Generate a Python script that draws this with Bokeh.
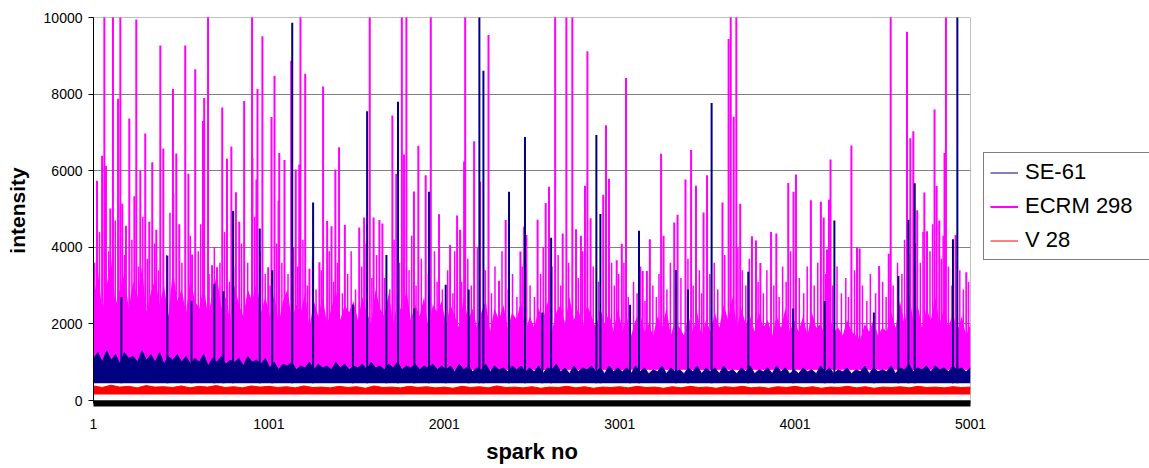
import numpy as np
from bokeh.plotting import figure
from bokeh.models import Legend, LegendItem, FixedTicker
from bokeh.embed import file_html
from bokeh.resources import INLINE

# Axis ticks
x_ticks = [1, 1001, 2001, 3001, 4001, 5001]
y_ticks = [0, 2000, 4000, 6000, 8000, 10000]
first_spark, last_spark = 1, 5001

series_names = ["SE-61", "ECRM 298", "V 28"]

# ECRM 298: lower edge of the dense trace, its upper edge per 25-spark window,
# the large flare sparks and the smaller ones
ecrm_floor = 800
ecrm_body = [
    2600, 3400, 2300, 3000, 3700, 2500, 2900, 3300, 2400, 3100, 2700, 3500, 2300, 2800, 3200, 2500, 3000, 2200, 3400, 2600,
    2900, 2300, 3200, 2600, 2400, 3000, 2200, 2800, 3300, 2400, 2700, 2100, 3000, 2500, 2200, 2900, 2600, 3100, 2300, 2700,
    2200, 2800, 2000, 2600, 2900, 2100, 2500, 2300, 2800, 1900, 2600, 2200, 2700, 2000, 2400, 2900, 2100, 2500, 2300, 2600,
    2100, 2700, 2300, 2000, 2900, 2400, 2200, 2800, 2000, 2600, 2300, 2900, 2100, 2500, 2200, 2700, 1900, 2500, 2300, 2600,
    2000, 2500, 2200, 1900, 2700, 2100, 2400, 1900, 2300, 2600, 1800, 2400, 2100, 2500, 1900, 2300, 2100, 2600, 1800, 2200,
    1900, 2400, 2100, 2600, 1800, 2300, 2500, 2000, 2700, 2100, 2400, 1900, 2500, 2200, 1900, 2400, 2000, 2300, 1800, 2400,
    1800, 2200, 1700, 2100, 2300, 1800, 2000, 1700, 2200, 1900, 2400, 1700, 2100, 1900, 1700, 2200, 1800, 2300, 1700, 2100,
    1800, 2300, 1900, 2500, 2100, 2700, 1900, 2400, 2000, 2200, 1800, 2300, 1900, 2100, 1700, 2200, 1900, 2400, 1800, 2100,
    1800, 2200, 1700, 2300, 1900, 2000, 1700, 2200, 1800, 1900, 1700, 2100, 1800, 1700, 1600, 2000, 1800, 2100, 1700, 1900,
    1800, 2300, 1900, 2600, 2000, 2800, 2100, 2500, 1900, 2400, 2100, 2700, 2000, 2400, 1900, 2300, 1800, 2200, 1700, 2000,
]
ecrm_peak_spark = [
    21, 50, 63, 72, 97, 112, 141, 154, 165, 186, 205, 234, 245, 268, 296, 319, 336, 359, 382, 399,
    454, 456, 473, 490, 524, 542, 563, 581, 625, 632, 654, 677, 705, 735, 762, 787, 813, 832, 860, 905,
    907, 930, 936, 964, 997, 1016, 1033, 1056, 1060, 1090, 1128, 1154, 1174, 1181, 1208, 1232, 1289, 1310, 1333, 1358,
    1380, 1401, 1434, 1516, 1544, 1576, 1598, 1631, 1648, 1705, 1727, 1759, 1771, 1785, 1828, 1853, 1895, 1924, 1971, 2034,
    2074, 2091, 2114, 2120, 2171, 2205, 2253, 2313, 2351, 2435, 2456, 2469, 2533, 2579, 2598, 2633, 2676, 2697, 2731, 2752,
    2780, 2803, 2817, 2835, 2907, 2923, 2940, 2984, 3013, 3037, 3132, 3156, 3173, 3237, 3251, 3312, 3331, 3376, 3408, 3436,
    3479, 3499, 3587, 3622, 3634, 3651, 3666, 3688, 3755, 3778, 3803, 3864, 3894, 3962, 3992, 4006, 4091, 4148, 4164, 4183,
    4194, 4203, 4322, 4354, 4369, 4480, 4535, 4546, 4639, 4658, 4675, 4697, 4738, 4753, 4796, 4808, 4823, 4853, 4861, 4916,
    4977,
]
ecrm_peak_value = [
    5740, 6390, 12000, 6130, 5010, 11000, 7880, 10800, 5140, 4560, 7360, 5330, 9950, 6000, 6970, 4670, 6220, 4460, 9270, 6580,
    8130, 5400, 6450, 4600, 9270, 5920, 3810, 8650, 7300, 7900, 11500, 3530, 3480, 7650, 6310, 6630, 5440, 4670, 7820, 10800,
    6340, 5770, 8130, 9510, 3480, 7400, 8480, 5220, 6460, 6280, 8870, 6030, 6160, 10600, 8530, 3440, 3610, 8200, 4690, 4550,
    6030, 6610, 4580, 4520, 4780, 10500, 4780, 4710, 4620, 7440, 5920, 10800, 6420, 10800, 5460, 6650, 5880, 10800, 4860, 4060,
    4830, 4460, 6240, 10800, 6770, 5710, 9540, 3130, 4710, 3890, 4540, 4320, 4720, 5160, 5580, 10800, 4360, 10800, 10800, 4470,
    4300, 5610, 9120, 4760, 5370, 7190, 5790, 3660, 4090, 8420, 3380, 3380, 4210, 6440, 4300, 4650, 4850, 5770, 6540, 5610,
    4910, 5880, 5170, 9440, 10800, 7410, 10800, 5140, 4290, 4180, 3590, 4400, 4360, 5680, 5450, 5900, 5230, 5190, 4780, 3940,
    5240, 6290, 6660, 4000, 3970, 3510, 3830, 10800, 9630, 6850, 7030, 4970, 5430, 4420, 7600, 5600, 4700, 6460, 10800, 4320,
    3350,
]
ecrm_minor_spark = [
    8, 35, 88, 125, 178, 220, 258, 282, 308, 350, 372, 418, 437, 505, 553, 598, 612, 660, 690, 722,
    748, 776, 800, 845, 880, 920, 950, 980, 1008, 1045, 1075, 1110, 1142, 1165, 1195, 1220, 1250, 1270, 1300, 1345,
    1370, 1392, 1420, 1450, 1470, 1495, 1530, 1555, 1588, 1615, 1660, 1690, 1715, 1745, 1800, 1815, 1840, 1870, 1910, 1945,
    1960, 1990, 2020, 2050, 2060, 2100, 2135, 2155, 2190, 2235, 2270, 2290, 2330, 2365, 2390, 2415, 2445, 2490, 2515, 2550,
    2565, 2615, 2650, 2665, 2710, 2765, 2790, 2850, 2880, 2955, 2970, 2995, 3025, 3050, 3080, 3100, 3120, 3145, 3190, 3210,
    3225, 3270, 3290, 3350, 3390, 3420, 3455, 3468, 3515, 3540, 3560, 3600, 3675, 3700, 3720, 3740, 3790, 3820, 3840, 3880,
    3910, 3930, 3950, 3975, 4025, 4050, 4070, 4110, 4130, 4175, 4215, 4240, 4265, 4290, 4305, 4340, 4385, 4410, 4430, 4460,
    4500, 4520, 4560, 4585, 4610, 4625, 4650, 4685, 4715, 4730, 4770, 4785, 4835, 4845, 4875, 4895, 4940, 4960, 4990,
]
ecrm_minor_value = [
    3600, 4400, 3900, 4700, 3800, 4200, 3500, 4800, 3700, 4100, 3400, 3800, 4900, 3600, 4300, 3900, 4600, 3300, 4000, 3600,
    4400, 3100, 3500, 4100, 3600, 4800, 3900, 3300, 3000, 4100, 3600, 3300, 4000, 3500, 4200, 3000, 3700, 2900, 3400, 3900,
    3100, 3600, 2800, 3300, 3900, 2900, 3500, 4100, 3200, 3800, 3200, 2900, 4200, 3600, 3400, 4300, 3000, 3700, 3300, 3900,
    3100, 2900, 3400, 2800, 3900, 3100, 3700, 3000, 4000, 3400, 2800, 3500, 3900, 2900, 3300, 2700, 3500, 3000, 2700, 3300,
    4000, 3500, 3800, 3000, 3600, 3200, 3900, 3500, 3100, 3600, 3000, 3300, 3600, 2700, 3100, 2800, 3500, 2600, 3000, 2700,
    3300, 2900, 3600, 3200, 3700, 3000, 3400, 2800, 3300, 3600, 2900, 3800, 4000, 3400, 3000, 3700, 3100, 2800, 3400, 3000,
    2700, 3500, 3100, 3900, 3200, 2800, 3500, 3000, 3600, 3300, 3000, 3500, 2800, 3200, 2700, 3400, 3000, 2600, 3300, 2800,
    3100, 2700, 3000, 3600, 3300, 4200, 3800, 4100, 3600, 4400, 3900, 4600, 3700, 4300, 3500, 3000, 3400, 2900, 3100,
]

# SE-61: lower edge, upper edge per 25-spark window, and flare sparks
se61_floor = 450
se61_body = [
    1100, 1250, 1000, 1300, 1050, 1200, 950, 1250, 1100, 1150, 1000, 1300, 1050, 1200, 1000, 1250, 950, 1150, 1050, 1200,
    1000, 1150, 950, 1100, 1000, 1200, 900, 1100, 1000, 1150, 950, 1050, 1000, 1100, 900, 1150, 1000, 1050, 950, 1100,
    850, 1000, 800, 950, 900, 1000, 800, 900, 850, 1000, 800, 950, 850, 900, 800, 1000, 850, 950, 800, 900,
    850, 950, 800, 1000, 850, 900, 800, 950, 850, 1000, 800, 900, 850, 950, 800, 900, 850, 950, 800, 900,
    800, 900, 750, 950, 800, 900, 750, 850, 800, 950, 750, 900, 800, 850, 750, 900, 800, 900, 750, 850,
    750, 900, 700, 850, 800, 950, 750, 850, 700, 900, 750, 850, 800, 900, 750, 850, 700, 900, 750, 850,
    750, 850, 700, 900, 750, 850, 700, 800, 750, 900, 700, 850, 750, 800, 700, 850, 750, 900, 700, 850,
    750, 850, 700, 900, 750, 800, 700, 850, 750, 900, 700, 800, 750, 850, 700, 900, 750, 850, 700, 800,
    700, 850, 750, 800, 700, 900, 750, 850, 700, 800, 750, 850, 700, 800, 750, 900, 700, 850, 750, 800,
    750, 900, 700, 850, 800, 950, 750, 850, 800, 900, 750, 900, 800, 850, 750, 900, 800, 850, 750, 850,
]
se61_peak_spark = [
    160, 422, 560, 690, 742, 797, 949, 1020, 1134, 1253, 1480, 1561, 1671, 1737, 1830, 1914, 2009, 2140, 2201, 2224,
    2370, 2461, 2560, 2610, 2868, 2891, 3060, 3111, 3322, 3390, 3525, 3734, 3990, 4170, 4225, 4450, 4590, 4647, 4683, 4901,
    4926,
]
se61_peak_value = [
    2700, 3780, 2600, 3050, 2850, 4950, 4490, 3400, 9860, 5170, 2500, 7550, 3800, 7800, 2400, 5450, 3020, 2900, 10500, 8610,
    5450, 6880, 2300, 4250, 6930, 4870, 2500, 4430, 3410, 2900, 7770, 3360, 2400, 2600, 4700, 2300, 3250, 4720, 5670, 4210,
    10500,
]

# V 28: lower edge and upper edge per 50-spark window
v28_floor = 160
v28_body = [
    380, 340, 400, 350, 370, 330, 390, 350, 360, 340, 380, 330, 370, 350, 390, 340, 360, 330, 380, 350,
    370, 340, 360, 330, 380, 340, 350, 330, 370, 340, 360, 320, 380, 340, 350, 330, 370, 340, 360, 330,
    350, 320, 370, 340, 360, 330, 380, 340, 350, 330, 360, 320, 350, 340, 370, 330, 360, 320, 350, 340,
    360, 330, 370, 340, 350, 320, 360, 330, 370, 340, 350, 320, 360, 340, 370, 330, 350, 320, 360, 340,
    370, 330, 360, 320, 350, 340, 370, 330, 360, 320, 350, 340, 360, 330, 370, 340, 350, 330, 360, 340,
    350,
]

NAVY, MAGENTA, RED = "#000080", "#ff00ff", "#ff0000"
FONT = "Liberation Sans"


def window_x(values):
    return np.linspace(first_spark, last_spark, len(values))


p = figure(
    frame_width=877, frame_height=386,
    x_range=(first_spark, last_spark), y_range=(-78, 10000),
    output_backend="svg", toolbar_location=None,
    min_border_left=93, min_border_right=179, min_border_top=17, min_border_bottom=65,
    background_fill_color="white", border_fill_color="white",
)
p.outline_line_color = "#c0c0c0"

# ECRM 298 dense trace and flares
p.varea(x=window_x(ecrm_body), y1=ecrm_floor, y2=ecrm_body, fill_color=MAGENTA)
p.segment(x0=ecrm_minor_spark, y0=ecrm_floor, x1=ecrm_minor_spark, y1=ecrm_minor_value,
          line_color=MAGENTA, line_width=1.5)
ecrm_flares = p.segment(x0=ecrm_peak_spark, y0=ecrm_floor, x1=ecrm_peak_spark, y1=ecrm_peak_value,
                        line_color=MAGENTA, line_width=2)

# SE-61 dense trace and flares
p.varea(x=window_x(se61_body), y1=se61_floor, y2=se61_body, fill_color=NAVY)
se61_edge = p.line(x=window_x(se61_body), y=se61_body, line_color=NAVY, line_width=1)
p.segment(x0=se61_peak_spark, y0=se61_floor, x1=se61_peak_spark, y1=se61_peak_value,
          line_color=NAVY, line_width=2)

# V 28 dense trace
p.varea(x=window_x(v28_body), y1=v28_floor, y2=v28_body, fill_color=RED)
v28_edge = p.line(x=window_x(v28_body), y=v28_body, line_color=RED, line_width=1)

legend = Legend(
    items=[LegendItem(label=n, renderers=[r])
           for n, r in zip(series_names, [se61_edge, ecrm_flares, v28_edge])],
    location=(13, 143), orientation="vertical",
    label_text_font=FONT, label_text_font_size="22px", label_text_color="black",
    glyph_width=28, glyph_height=25, label_height=25, label_width=118, spacing=8,
    padding=6, margin=0, label_standoff=7,
    border_line_color="black", border_line_width=1,
    background_fill_color="white", background_fill_alpha=1,
)
p.add_layout(legend, "right")

# grid
p.xgrid.visible = False
p.ygrid.grid_line_color = "#808080"
p.ygrid.grid_line_width = 1

# axes
p.xaxis.ticker = FixedTicker(ticks=x_ticks)
p.yaxis.ticker = FixedTicker(ticks=y_ticks)
p.xaxis.axis_label = "spark no"
p.yaxis.axis_label = "intensity"
for ax in (p.xaxis, p.yaxis):
    ax.axis_label_text_font = FONT
    ax.axis_label_text_font_style = "bold"
    ax.axis_label_text_color = "black"
    ax.major_label_text_font = FONT
    ax.major_label_text_font_size = "14px"
    ax.major_label_text_color = "black"
    ax.minor_tick_line_color = None
p.xaxis.axis_label_text_font_size = "22px"
p.yaxis.axis_label_text_font_size = "21px"
p.xaxis.axis_line_color = "black"
p.xaxis.axis_line_width = 6
p.xaxis.major_tick_line_color = None
p.xaxis.major_label_standoff = 9
p.xaxis.axis_label_standoff = 7
p.yaxis.axis_line_color = "black"
p.yaxis.axis_line_width = 1
p.yaxis.major_tick_line_color = "black"
p.yaxis.major_tick_out = 5
p.yaxis.major_tick_in = 0
p.yaxis.major_label_standoff = 6
p.yaxis.axis_label_standoff = 12

open("out.html", "w").write(file_html(p, INLINE))
